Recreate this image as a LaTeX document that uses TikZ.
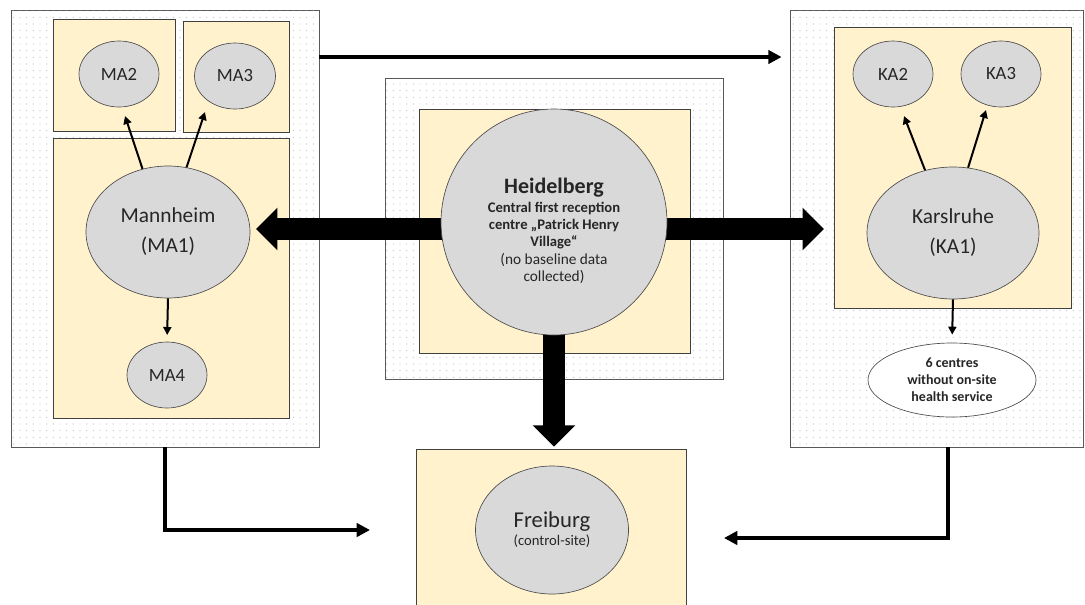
\documentclass[tikz,border=0pt]{standalone}
\usepackage{fontspec}
\setmainfont{Carlito}
\usetikzlibrary{shapes.geometric,arrows.meta,patterns.meta,fit}
\definecolor{boxy}{HTML}{FFF2CC}
\definecolor{elg}{HTML}{D9D9D9}
\pgfdeclarelayer{boxes}
\pgfdeclarelayer{arrows}
\pgfsetlayers{boxes,arrows,main}
\begin{document}
\begin{tikzpicture}[x=0.75pt,y=-0.75pt,
  outer/.style={draw=black!65, line width=0.6pt, fill=white, inner sep=0pt,
    postaction={pattern={Dots[distance=5pt,radius=0.35pt]}, pattern color=black!40}},
  ybox/.style={draw=black!75, line width=0.6pt, fill=boxy, inner sep=0pt},
  site/.style={ellipse, draw=black!70, line width=0.5pt, fill=elg, inner sep=0pt, align=center, text=black!85},
  thinarr/.style={line width=1.5pt, -{Triangle[length=6pt,width=6pt]}},
  midarr/.style={line width=3pt, -{Triangle[length=10pt,width=10pt]}},
  bigarr/.style={line width=16.5pt, -{Triangle[length=16pt,width=31pt]}},
]
\useasboundingbox (0,0) rectangle (1085,604);

\begin{pgfonlayer}{boxes}
\fill[white] (0,0) rectangle (1085,604);
\node[outer, fit={(11,10)(319,447)}] (mabox) {};
\node[outer, fit={(790,10)(1083,447)}] (kabox) {};
\node[outer, fit={(385,78)(723,379)}] (hdbox) {};
\node[ybox, fit={(53,19)(175,131)}] (ma2box) {};
\node[ybox, fit={(183,21)(289,132)}] (ma3box) {};
\node[ybox, fit={(53,138)(289,418)}] (ma1box) {};
\node[ybox, fit={(834,27)(1071,308)}] (kabox1) {};
\node[ybox, fit={(419,109)(690,353)}] (hdbox1) {};
\node[ybox, fit={(416,449)(686,640)}] (frbox) {};
\end{pgfonlayer}

% sites
\node[site, minimum width=60pt, minimum height=49.5pt, font=\fontsize{14}{16}\selectfont] (ma2) at (119,74) {MA2};
\node[site, minimum width=60.75pt, minimum height=49.5pt, font=\fontsize{14}{16}\selectfont] (ma3) at (235,76) {MA3};
\node[site, minimum width=123pt, minimum height=99pt, font=\fontsize{16}{22.5}\selectfont] (ma1) at (168,232) {Mannheim\\(MA1)};
\node[site, minimum width=60pt, minimum height=49.5pt, font=\fontsize{14}{16}\selectfont] (ma4) at (167,375) {MA4};

\node[site, minimum width=60pt, minimum height=49.5pt, font=\fontsize{14}{16}\selectfont] (ka2) at (893,74) {KA2};
\node[site, minimum width=60pt, minimum height=49.5pt, font=\fontsize{14}{16}\selectfont] (ka3) at (1001,74) {KA3};
\node[site, minimum width=129pt, minimum height=99pt, font=\fontsize{16}{22.5}\selectfont] (ka1) at (953,233) {Karslruhe\\(KA1)};
\node[site, fill=white, minimum width=126pt, minimum height=55.5pt, font=\fontsize{10.5}{12.75}\selectfont\bfseries] (c6) at (952,380) {6 centres\\without on-site\\health service};

\node[site, minimum width=169.5pt, minimum height=169.5pt] (hd) at (554,222) {};
\node[align=center, text=black!85, font=\fontsize{11}{13}\selectfont, inner sep=0pt] (hdt) at (554,231)
  {{\fontsize{16.5}{18}\selectfont\bfseries Heidelberg}\\[1pt]
   \textbf{Central first reception}\\
   \textbf{centre „Patrick Henry}\\
   \textbf{Village“}\\
   {\fontsize{11.5}{13}\selectfont (no baseline data}\\
   {\fontsize{11.5}{13}\selectfont collected)}};

\node[site, minimum width=114.75pt, minimum height=96pt] (fr) at (552,530)
  {{\fontsize{17}{19}\selectfont Freiburg}\\[1.5pt]{\fontsize{11}{13}\selectfont (control-site)}};

% connectors
\begin{pgfonlayer}{arrows}
\coordinate (bl) at (256,229);
\coordinate (br) at (824,229);
\draw[bigarr] (hd.center |- bl) -- (bl);
\draw[bigarr] (hd.center |- br) -- (br);
\draw[bigarr, shorten >=1.5pt] (hd.center) -- (hd.center |- frbox.north);

\coordinate (ty) at (0,57);
\draw[midarr, shorten >=6pt] (mabox.east |- ty) -- (kabox.west |- ty);
\coordinate (fl) at (370,530);
\draw[midarr] (mabox.south) |- (fl);
\coordinate (kx) at (948,0);
\coordinate (fr2) at (724,538);
\draw[midarr] (kabox.south -| kx) |- (fr2);
\end{pgfonlayer}

\coordinate (a2) at (125,116);
\coordinate (a3) at (205,112);
\coordinate (k2) at (904,116);
\coordinate (k3) at (986,110);
\draw[thinarr] (ma1.112) -- (a2);
\draw[thinarr] (ma1.74) -- (a3);
\draw[thinarr, shorten >=5pt] (ma1.south) -- (ma4.north);
\draw[thinarr] (ka1.114) -- (k2);
\draw[thinarr] (ka1.77) -- (k3);
\draw[thinarr, shorten >=6pt] (ka1.south) -- (c6.north);
\end{tikzpicture}
\end{document}
